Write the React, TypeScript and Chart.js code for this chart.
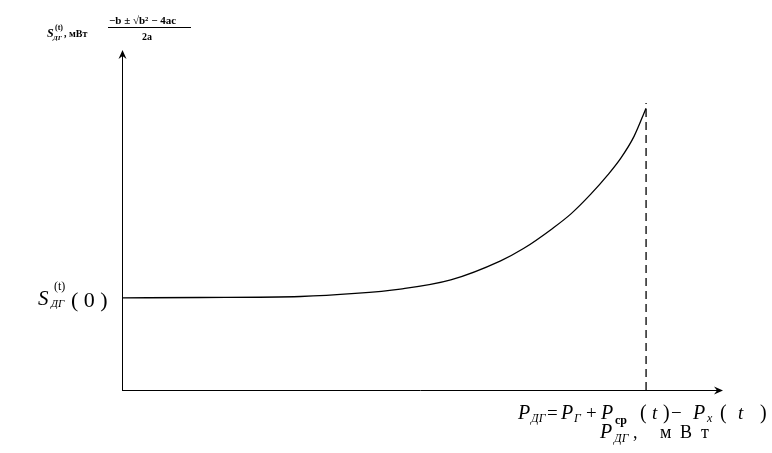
import React, { useEffect, useRef } from "react";
import { Chart, registerables } from "chart.js";

Chart.register(...registerables);

// Curve points (x: P_ДГ, y: S_ДГ(t))
const curveX = [0, 13, 29.7, 38.8, 46.3, 54.7, 63, 66.8, 71.7, 74.7, 78, 80.8, 83, 85.2, 87.2];
const curveY = [27.1, 27.2, 27.5, 28.4, 29.7, 32.4, 38.0, 41.6, 47.6, 51.8, 57.6, 63.2, 68.2, 74.6, 82.9];
const limitX = 87.2;

const SERIF = '"Liberation Serif", "DejaVu Serif", serif';

function drawText(ctx: CanvasRenderingContext2D, t: string, x: number, y: number, size: number, italic = false, bold = false) {
  ctx.font = `${italic ? "italic " : ""}${bold ? "bold " : ""}${size}px ${SERIF}`;
  ctx.fillText(t, x, y);
  return ctx.measureText(t).width;
}

const annotations = {
  id: "annotations",
  afterDraw(chart: any) {
    const { ctx, chartArea } = chart;
    const { left, right, top, bottom } = chartArea;
    ctx.save();
    ctx.strokeStyle = "#000";
    ctx.fillStyle = "#000";
    ctx.lineWidth = 1;
    // axes
    ctx.beginPath();
    ctx.moveTo(left + 0.5, bottom);
    ctx.lineTo(left + 0.5, top + 4);
    ctx.moveTo(left, bottom + 0.5);
    ctx.lineTo(right - 4, bottom + 0.5);
    ctx.stroke();
    // arrow heads
    ctx.beginPath();
    ctx.moveTo(left + 0.5, top);
    ctx.lineTo(left - 3.5, top + 9);
    ctx.lineTo(left + 0.5, top + 6);
    ctx.lineTo(left + 4.5, top + 9);
    ctx.closePath();
    ctx.fill();
    ctx.beginPath();
    ctx.moveTo(right, bottom + 0.5);
    ctx.lineTo(right - 9, bottom - 3.5);
    ctx.lineTo(right - 6, bottom + 0.5);
    ctx.lineTo(right - 9, bottom + 4.5);
    ctx.closePath();
    ctx.fill();

    ctx.textBaseline = "alphabetic";
    // top-left label
    drawText(ctx, "S", 47, 37, 12, true, true);
    drawText(ctx, "(t)", 55, 30, 8, false, true);
    drawText(ctx, "ДГ", 53, 40, 7, true, true);
    drawText(ctx, ", мВт", 64, 37, 10, false, true);
    ctx.fillRect(108, 27, 83, 1);
    drawText(ctx, "−b ± √b² − 4ac", 109, 24, 11, false, true);
    drawText(ctx, "2a", 142, 40, 10, false, true);

    // left label
    drawText(ctx, "S", 38, 305, 21, true);
    drawText(ctx, "(t)", 54, 290, 12);
    drawText(ctx, "ДГ", 51, 307, 11, true);
    drawText(ctx, "( 0 )", 71, 307, 22);

    // bottom formula (line 1)
    const y1 = 419;
    drawText(ctx, "P", 518, y1, 20, true);
    drawText(ctx, "ДГ", 531, y1 + 3, 12, true);
    drawText(ctx, "=", 547, y1, 19);
    drawText(ctx, "P", 561, y1, 20, true);
    drawText(ctx, "Г", 574, y1 + 3, 12, true);
    drawText(ctx, "+", 586, y1, 19);
    drawText(ctx, "P", 601, y1, 20, true);
    drawText(ctx, "ср", 615, y1 + 5, 12, false, true);
    drawText(ctx, "(", 640, y1, 20);
    drawText(ctx, "t", 652, y1, 19, true);
    drawText(ctx, ")", 663, y1, 20);
    drawText(ctx, "−", 671, y1, 19);
    drawText(ctx, "P", 693, y1, 20, true);
    drawText(ctx, "х", 707, y1 + 3, 12, true);
    drawText(ctx, "(", 720, y1, 20);
    drawText(ctx, "t", 738, y1, 19, true);
    drawText(ctx, ")", 760, y1, 20);

    // bottom formula (line 2)
    const y2 = 438;
    drawText(ctx, "P", 600, y2, 20, true);
    drawText(ctx, "ДГ", 614, y2 + 4, 12, true);
    drawText(ctx, ",", 633, y2, 18);
    drawText(ctx, "м", 660, y2, 18);
    drawText(ctx, "В", 680, y2, 18);
    drawText(ctx, "т", 701, y2, 18);
    ctx.restore();
  },
};

export default function App() {
  const ref = useRef<HTMLCanvasElement | null>(null);
  useEffect(() => {
    if (!ref.current) return;
    const chart = new Chart(ref.current, {
      type: "scatter",
      data: {
        datasets: [
          {
            data: curveX.map((v, i) => ({ x: v, y: curveY[i] })),
            showLine: true,
            borderColor: "#000",
            borderWidth: 1.3,
            pointRadius: 0,
            cubicInterpolationMode: "monotone",
          },
          {
            data: [
              { x: limitX, y: 0 },
              { x: limitX, y: curveY[curveY.length - 1] + 1.5 },
            ],
            showLine: true,
            borderColor: "#000",
            borderWidth: 1.3,
            borderDash: [8, 5],
            pointRadius: 0,
          },
        ],
      },
      options: {
        animation: false,
        responsive: false,
        events: [],
        layout: { padding: { left: 122, top: 50, right: 49, bottom: 63 } },
        plugins: { legend: { display: false }, tooltip: { enabled: false } },
        scales: {
          x: { type: "linear", min: 0, max: 100, display: false },
          y: { type: "linear", min: 0, max: 100, display: false },
        },
      },
      plugins: [annotations],
    });
    return () => chart.destroy();
  }, []);
  return (
    <div style={{ position: "fixed", left: 0, top: 0, width: 772, height: 453, background: "#fff" }}>
      <canvas ref={ref} width={772} height={453} style={{ width: 772, height: 453, display: "block" }} />
    </div>
  );
}
